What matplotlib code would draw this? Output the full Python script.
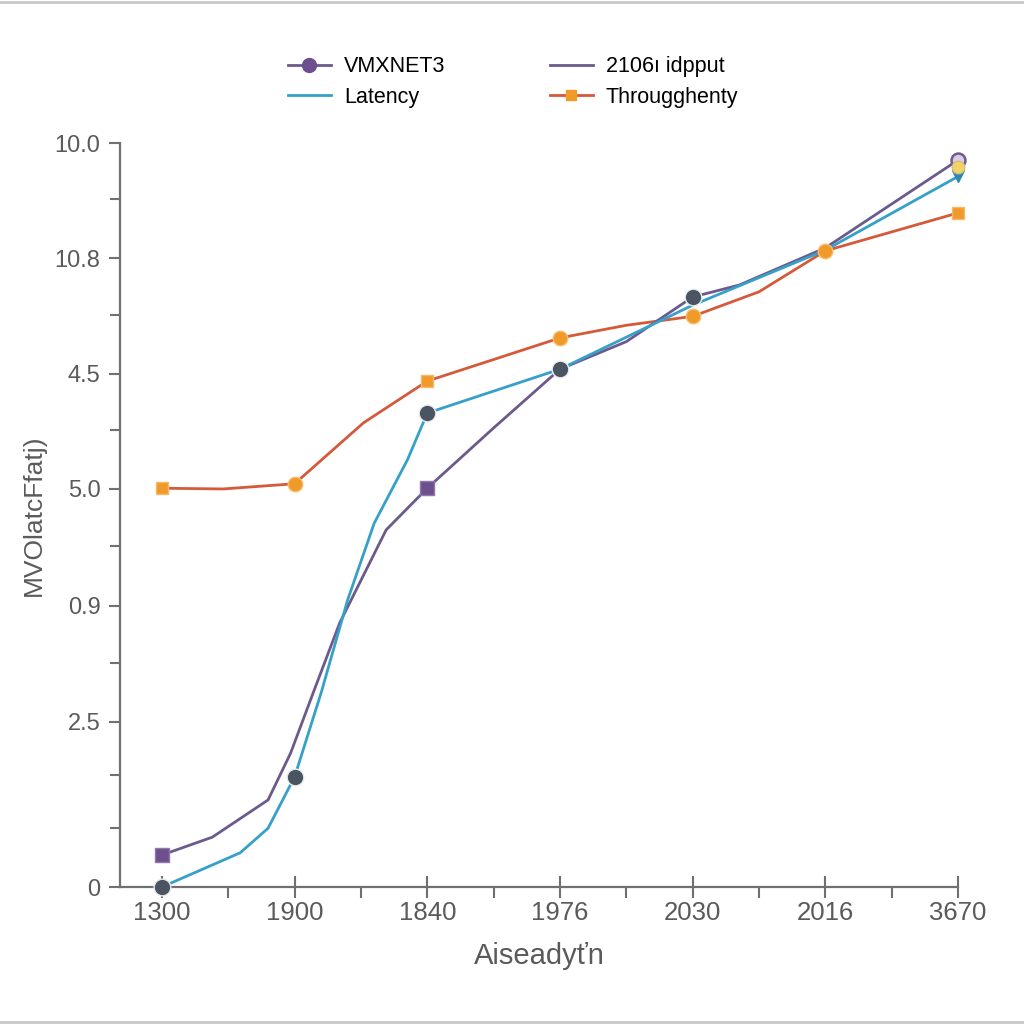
import matplotlib
matplotlib.use("Agg")
import matplotlib.pyplot as plt
from matplotlib.lines import Line2D
from matplotlib.ticker import FixedLocator
from matplotlib import font_manager

# ---------------- data ----------------
x_tick_labels = ["1300", "1900", "1840", "1976", "2030", "2016", "3670"]
x_ticks = [0, 1, 2, 3, 4, 5, 6]
x_minor = [0.5, 1.5, 2.5, 3.5, 4.5, 5.5]

y_tick_labels = ["0", "2.5", "0.9", "5.0", "4.5", "10.8", "10.0"]
y_ticks = [0, 22.2, 37.8, 53.5, 69.0, 84.5, 100]
y_minor = [7.9, 15.1, 30.1, 45.8, 61.4, 76.9, 92.5]

thr_x = [0, 0.46, 1, 1.52, 2, 3, 3.5, 4, 4.5, 5, 6]
thr_y = [53.6, 53.5, 54.2, 62.4, 68.0, 73.8, 75.5, 76.7, 80.0, 85.5, 90.6]

lat_x = [0, 0.59, 0.8, 1, 1.2, 1.4, 1.6, 1.85, 2, 3, 4, 5, 6]
lat_y = [0, 4.6, 7.9, 14.8, 26.1, 38.6, 48.9, 57.4, 63.7, 69.6, 78.2, 85.6, 95.5]

pur_x = [0, 0.38, 0.8, 0.97, 1.14, 1.34, 1.69, 2, 2.5, 3, 3.5, 4, 4.35, 5, 6]
pur_y = [4.3, 6.7, 11.7, 18.0, 26.1, 35.5, 48.0, 53.6, 61.7, 69.6, 73.3, 79.3, 80.9, 85.9, 97.7]

extra_x = [6]
extra_y = [96.8]

# ---------------- style ----------------
PURPLE = "#6c5a8c"
PURPLE_M = "#6e4f8e"
BLUE = "#35a0c8"
RED = "#d45a3a"
ORANGE = "#f09a2a"
DARK = "#4a5561"
GRAY = "#5a5a5a"

fams = [f.name for f in font_manager.fontManager.ttflist]
narrow = "Liberation Sans Narrow" if "Liberation Sans Narrow" in fams else "Liberation Sans"

fig = plt.figure(figsize=(10.24, 10.24), dpi=100)
fig.patch.set_facecolor("white")
ax = fig.add_axes([120 / 1024, 1 - 887 / 1024, (958 - 120) / 1024, (887 - 143) / 1024])

lw = 2.0
# throughput
ax.plot(thr_x, thr_y, color=RED, lw=lw, zorder=3, solid_capstyle="round")
ax.plot(thr_x, thr_y, ls="none", marker="s", markevery=[0, 4, 10], ms=8,
        color=ORANGE, mec="#f6b86a", mew=1, zorder=6, clip_on=False)
ax.plot(thr_x, thr_y, ls="none", marker="o", markevery=[2, 5, 7, 9], ms=10.5,
        color=ORANGE, mec="#f6c070", mew=1, zorder=6, clip_on=False)

# purple
ax.plot(pur_x, pur_y, color=PURPLE, lw=lw, zorder=4)
ax.plot(pur_x, pur_y, ls="none", marker="s", markevery=[0, 7], ms=10,
        color=PURPLE_M, mec="#8e7aa8", mew=1, zorder=6, clip_on=False)
ax.plot(pur_x, pur_y, ls="none", marker="o", markevery=[14], ms=10,
        color="#d8cce6", mec="#6e5a8e", mew=1.8, zorder=7, clip_on=False)
ax.plot(pur_x, pur_y, ls="none", marker="o", markevery=[11], ms=12,
        color=DARK, mec="#e8ecef", mew=1, zorder=7, clip_on=False)

# latency
ax.plot(lat_x, lat_y, color=BLUE, lw=lw, zorder=5)
ax.plot(lat_x, lat_y, ls="none", marker="v", markevery=[12], ms=8,
        color="#2f86b0", zorder=6, clip_on=False)
ax.plot(lat_x, lat_y, ls="none", marker="o", markevery=[0, 3, 8, 9], ms=12,
        color=DARK, mec="#e8ecef", mew=1, zorder=7, clip_on=False)

# extra yellow point
ax.plot(extra_x, extra_y, ls="none", marker="o", ms=9, color="#f2d36a",
        mec="#d8c070", mew=1, zorder=8, clip_on=False)

# ---------------- axes ----------------
ax.set_xlim(-0.316, 6)
ax.set_ylim(0, 100)
for s in ["top", "right"]:
    ax.spines[s].set_visible(False)
for s in ["left", "bottom"]:
    ax.spines[s].set_color("#707070")
    ax.spines[s].set_linewidth(1.6)

ax.set_xticks(x_ticks)
ax.set_xticklabels(x_tick_labels, fontsize=18.5, family=narrow, color=GRAY)
ax.xaxis.set_minor_locator(FixedLocator(x_minor))
ax.tick_params(axis="x", which="major", direction="inout", length=16, width=1.5,
               color="#707070", pad=2)
ax.tick_params(axis="x", which="minor", direction="out", length=8, width=1.5,
               color="#707070")

ax.set_yticks(y_ticks)
ax.set_yticklabels(y_tick_labels, fontsize=17, family="Liberation Sans", color=GRAY)
ax.yaxis.set_minor_locator(FixedLocator(y_minor))
ax.tick_params(axis="y", which="major", direction="out", length=8, width=1.5,
               color="#707070", pad=6)
ax.tick_params(axis="y", which="minor", direction="out", length=7, width=1.5,
               color="#707070")

ax.set_xlabel("Aiseadyťn", fontsize=21, family=narrow, color=GRAY, labelpad=12)
ax.set_ylabel("MVOlatcFfatj)", fontsize=19, family=narrow, color=GRAY)
ax.yaxis.set_label_coords(-0.088, 0.5)

# ---------------- legend ----------------
handles = [
    Line2D([], [], color=PURPLE, lw=2, marker="o", ms=10, mfc=PURPLE_M, mec=PURPLE_M),
    Line2D([], [], color=BLUE, lw=2),
    Line2D([], [], color=PURPLE, lw=2),
    Line2D([], [], color=RED, lw=2, marker="s", ms=7, mfc=ORANGE, mec=ORANGE),
]
labels = ["VMXNET3", "Latency", "2106ı idpput", "Througghenty"]
fig.legend(handles, labels, ncol=2, loc="center", bbox_to_anchor=(513 / 1024, 1 - 82 / 1024),
           frameon=False, handlelength=2.0, columnspacing=4.85,
           labelspacing=0.45, handletextpad=0.6, prop={"family": "Liberation Sans", "size": 15.5})

# thin frame lines around image
fig.add_artist(Line2D([0, 1], [0.998, 0.998], color="#c8c8c8", lw=2, transform=fig.transFigure))
fig.add_artist(Line2D([0, 1], [0.002, 0.002], color="#c8c8c8", lw=2, transform=fig.transFigure))

fig.savefig("out.png", dpi=100, facecolor="white")
